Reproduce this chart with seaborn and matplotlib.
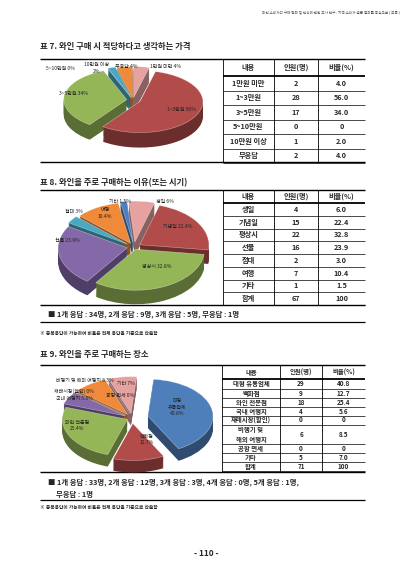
import numpy as np
import matplotlib
matplotlib.use('Agg')
import matplotlib.pyplot as plt
import matplotlib.colors as mcolors
import seaborn as sns

# data
# -----------------------------------------------------------------------------
price_names = ['1만원 미만', '1~3만원', '3~5만원', '5~10만원', '10만원 이상', '무응답']
price_counts = [2, 28, 17, 0, 1, 2]
price_ratio = [4.0, 56.0, 34.0, 0, 2.0, 4.0]
price_pie_names = ['1만원 미만 ', '1~3만원 ', '3~5만원 ', '5~10만원 ', '10만원 이상\n', '무응답 ']

reason_names = ['생일', '기념일', '평상시', '선물', '접대', '여행', '기타', '합계']
reason_counts = [4, 15, 22, 16, 2, 7, 1, 67]
reason_ratio = [6.0, 22.4, 32.8, 23.9, 3.0, 10.4, 1.5, 100]
reason_pie_names = ['생일 ', '기념일 ', '평상시 ', '선물 ', '접대 ', '여행\n', '기타 ']

place_names = ['대형 유통업체', '백화점', '와인 전문점', '국내 여행지', '재래시장(할인)',
               '비행기 및\n해외 여행지', '공항 면세', '기타', '합계']
place_counts = [29, 9, 18, 4, 0, 6, 0, 5, 71]
place_ratio = [40.8, 12.7, 25.4, 5.6, 0, 8.5, 0, 7.0, 100]
place_pie_names = ['대형\n유통업체\n', '백화점\n', '와인 전문점\n', '국내 여행지 ',
                   '재래시장(할인) ', '비행기 및 해외 여행지 ', '공항 면세 ', '기타 ']

header = ['내용', '인원(명)', '비율(%)']
# -----------------------------------------------------------------------------

sns.set_theme(style='white')
plt.rcParams['font.family'] = ['Noto Sans CJK KR', 'DejaVu Sans']

W, H = 413, 584
fig = plt.figure(figsize=(W / 100, H / 100), dpi=100)
bg = fig.add_axes([0, 0, 1, 1])
bg.set_xlim(0, W)
bg.set_ylim(H, 0)
bg.axis('off')

pink = '#E5A2A1'
red = '#B24C4A'
green = '#94B657'
purple = '#8468A8'
teal = '#4AA8C2'
orange = '#EE8A3A'
blue = '#4F7FBA'


def darker(c, f=0.6):
    r, g, b = mcolors.to_rgb(c)
    return (r * f, g * f, b * f)


def fmt_ratio(v):
    if v == 0:
        return '0'
    if v == 100:
        return '100'
    return '{:.1f}'.format(v)


def hline(y, x0, x1, lw=0.9):
    bg.plot([x0, x1], [y, y], color='black', lw=lw, solid_capstyle='butt')


def vline(x, y0, y1, lw=0.6):
    bg.plot([x, x], [y0, y1], color='black', lw=lw, solid_capstyle='butt')


def table(cols, top, head_h, row_h, names, counts, ratio, fs=5.2):
    y = top + head_h
    for i, t in enumerate(header):
        bg.text((cols[i] + cols[i + 1]) / 2, top + head_h / 2, t, ha='center',
                va='center', fontsize=fs, fontweight='bold')
    hline(y, cols[0], cols[-1], lw=1.3)
    for name, cnt, rat, h in zip(names, counts, ratio, row_h):
        yc = y + h / 2
        bg.text((cols[0] + cols[1]) / 2, yc, name, ha='center', va='center',
                fontsize=fs, fontweight='bold', linespacing=1.5)
        bg.text((cols[1] + cols[2]) / 2, yc, str(cnt), ha='center', va='center',
                fontsize=fs, fontweight='bold')
        bg.text((cols[2] + cols[3]) / 2, yc, fmt_ratio(rat), ha='center',
                va='center', fontsize=fs, fontweight='bold')
        y += h
        hline(y, cols[0], cols[-1], lw=0.5)
    for x in cols[1:-1]:
        vline(x, top, y)


def pie3d(box, center, radii, depth, values, colors, explode, start,
          names, label_uv, fs=3.6):
    x0, y0, x1, y1 = box
    ax = fig.add_axes([x0 / W, 1 - y1 / H, (x1 - x0) / W, (y1 - y0) / H])
    cx, cy = center
    rx, ry = radii
    d = depth / ry
    side = [darker(c) for c in colors]
    for off in np.linspace(d, 0, 14)[:-1]:
        ax.pie(values, colors=side, explode=explode, startangle=start,
               counterclock=False, center=(0, -off),
               wedgeprops=dict(linewidth=0))
    ax.pie(values, colors=colors, explode=explode, startangle=start,
           counterclock=False,
           wedgeprops=dict(linewidth=0.4, edgecolor=(1, 1, 1, 0.5)))
    ax.set_aspect('auto')
    ax.set_xlim((x0 - cx) / rx, (x1 - cx) / rx)
    ax.set_ylim((cy - y1) / ry, (cy - y0) / ry)
    ax.axis('off')
    for name, v, (u, w) in zip(names, values, label_uv):
        ax.text(u, w, '{}{:g}%'.format(name, v), ha='center', va='center',
                fontsize=fs, color='#222222', linespacing=1.4)


# page header
bg.text(400, 12, '와인 소비자의 구매 행태 및 인식에 관한 조사 연구 : 지역 소비자 설문 결과를 중심으로 ( 부록 )',
        ha='right', va='center', fontsize=2.6, color='#555555')

# table 7 - price
# -----------------------------------------------------------------------------
bg.text(40, 47, '표 7. 와인 구매 시 적당하다고 생각하는 가격', ha='left',
        va='center', fontsize=6.0, fontweight='bold')
hline(59, 40, 365, lw=1.0)
table([223, 274, 318, 365], 59, 17, [14.5] * 6, price_names, price_counts,
      price_ratio)
vline(223, 59, 162)
hline(162, 40, 365, lw=1.0)
pie3d((42, 60, 222, 161), (133, 100), (63, 31), 15, price_ratio,
      [pink, red, green, purple, teal, orange],
      [0.08, 0.12, 0.1, 0.05, 0.1, 0.08], 90, price_pie_names,
      [(0.52, 1.08), (0.76, -0.3), (-0.95, 0.2), (-1.16, 1.02),
       (-0.58, 1.04), (-0.11, 1.08)])

# table 8 - reason
# -----------------------------------------------------------------------------
bg.text(40, 183, '표 8. 와인을 주로 구매하는 이유(또는 시기)', ha='left',
        va='center', fontsize=6.0, fontweight='bold')
hline(190, 40, 365, lw=1.0)
table([223, 274, 318, 365], 190, 13, [12.75] * 8, reason_names,
      reason_counts, reason_ratio)
vline(223, 190, 305)
hline(305, 40, 365, lw=1.0)
pie3d((42, 191, 222, 304), (134, 247), (69, 41), 14, reason_ratio[:7],
      [pink, red, green, purple, teal, orange, blue],
      [0.12, 0.1, 0.06, 0.1, 0.12, 0.1, 0.12], 95, reason_pie_names,
      [(0.45, 1.1), (0.64, 0.5), (0.33, -0.48), (-0.96, 0.17),
       (-0.87, 0.86), (-0.42, 0.83), (-0.21, 1.1)])
bg.text(48, 314, '■ 1개 응답 : 34명, 2개 응답 : 9명, 3개 응답 : 5명, 무응답 : 1명',
        ha='left', va='center', fontsize=5.3, fontweight='bold')
hline(322, 40, 365, lw=0.9)
bg.text(40, 333, '※ 중복응답이 가능하여 비율은 전체 응답을 기준으로 산출함',
        ha='left', va='center', fontsize=3.4, fontweight='bold')

# table 9 - place
# -----------------------------------------------------------------------------
bg.text(40, 355, '표 9. 와인을 주로 구매하는 장소', ha='left',
        va='center', fontsize=6.0, fontweight='bold')
hline(365, 40, 365, lw=1.0)
table([222, 280, 322, 365], 365, 14,
      [9.5, 9.5, 9, 8.5, 9, 19.5, 9, 9, 9], place_names, place_counts,
      place_ratio, fs=4.6)
vline(222, 365, 472)
hline(472, 40, 365, lw=1.0)
pie3d((42, 366, 221, 471), (132, 418), (65, 37), 12, place_ratio[:8],
      [blue, red, green, purple, teal, orange, '#9DB9DB', pink],
      [0.25, 0.15, 0.08, 0.12, 0.12, 0.12, 0.12, 0.12], 85, place_pie_names,
      [(0.7, 0.3), (0.23, -0.58), (-0.85, -0.2), (-0.88, 0.54),
       (-0.9, 0.73), (-0.72, 1.03), (-0.18, 0.62), (-0.1, 0.93)])
bg.text(48, 482, '■ 1개 응답 : 33명, 2개 응답 : 12명, 3개 응답 : 3명, 4개 응답 : 0명, 5개 응답 : 1명,',
        ha='left', va='center', fontsize=5.3, fontweight='bold')
bg.text(56, 494, '무응답 : 1명', ha='left', va='center', fontsize=5.3,
        fontweight='bold')
hline(500, 40, 365, lw=0.9)
bg.text(40, 507, '※ 중복응답이 가능하여 비율은 전체 응답을 기준으로 산출함',
        ha='left', va='center', fontsize=3.4, fontweight='bold')

# page number
bg.text(206, 553, '- 110 -', ha='center', va='center', fontsize=6,
        fontweight='bold')

plt.savefig('out.png', dpi=100)
